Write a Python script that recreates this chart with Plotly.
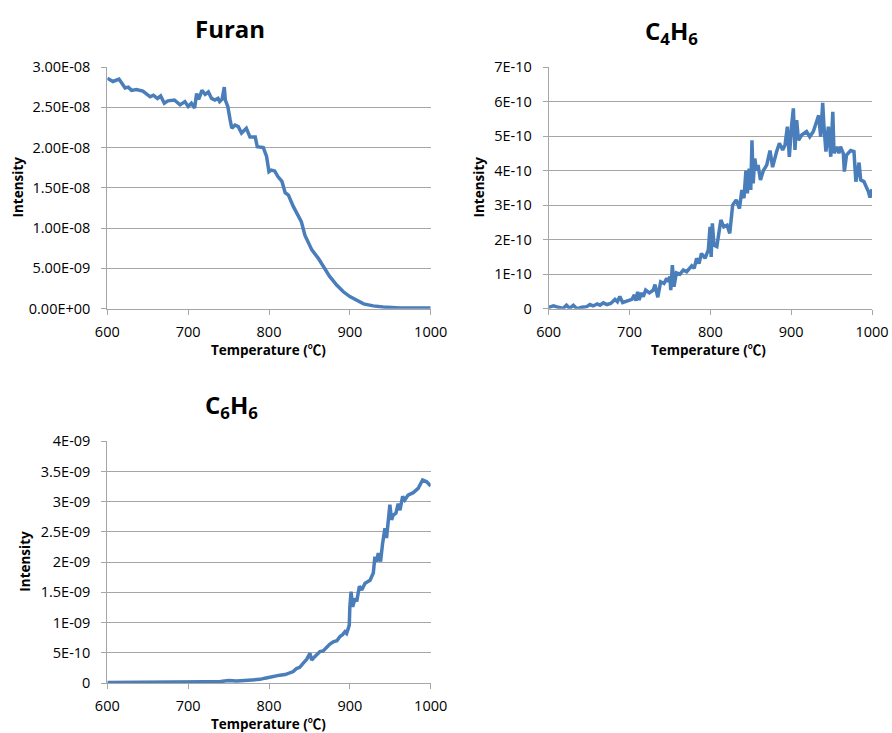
import plotly.graph_objects as go

# ---- data ---------------------------------------------------------------
# Furan intensity (units of 1E-08)
furan_t = [600, 607, 614.5, 622, 626, 630, 636, 644, 653, 657, 662, 666, 670.5, 675,
           683, 690, 696, 700, 704, 708, 710.5, 713, 715, 717, 721, 725, 729, 733,
           737, 739, 742, 744.7, 746, 749, 752, 754, 758, 762, 766, 772, 776.5, 783,
           785.5, 793, 797, 800, 803, 807, 811, 816, 820, 824, 830, 836, 840, 844.5,
           849, 853, 861, 867, 875, 884, 892, 900, 908, 917, 929, 941, 962, 1000]
furan_v = [2.86, 2.82, 2.85, 2.74, 2.75, 2.71, 2.72, 2.70, 2.63, 2.65, 2.61, 2.64, 2.55, 2.58,
           2.59, 2.53, 2.57, 2.51, 2.55, 2.49, 2.67, 2.60, 2.65, 2.71, 2.66, 2.69, 2.61, 2.59,
           2.61, 2.57, 2.60, 2.75, 2.59, 2.51, 2.34, 2.24, 2.28, 2.26, 2.18, 2.24, 2.13, 2.13,
           2.01, 2.00, 1.89, 1.70, 1.72, 1.71, 1.64, 1.58, 1.44, 1.41, 1.27, 1.15, 1.08, 0.91,
           0.81, 0.73, 0.625, 0.52, 0.40, 0.29, 0.21, 0.15, 0.11, 0.06, 0.035, 0.02, 0.008, 0.008]
FURAN_UNIT = 1e-8

# C4H6 intensity (units of 1E-10)
c4h6_t = [600, 606, 612, 618, 622, 626, 630.5, 635, 641, 647, 651, 655, 660, 663.5,
          667.6, 672, 676.7, 682, 685, 688, 691.5, 697, 703, 706, 708, 710, 712, 714,
          717, 720, 724.5, 729.5, 731.5, 735, 738.5, 742.7, 746, 748, 750, 751, 753,
          755, 758, 762.5, 766.6, 770.7, 777, 780, 783, 786, 789, 793.4, 797.5, 799.6,
          801, 802.5, 804.5, 808, 811, 813, 816.6, 820.7, 824, 827.6, 832, 836, 839,
          841.6, 844, 845.8, 848, 850, 851.5, 853, 855, 857, 859, 862, 865.6, 869.7,
          873.8, 877, 882, 885.4, 889.5, 892.4, 895.3, 897.7, 900.6, 902.7, 904.7,
          906.8, 909, 913, 919, 923, 927.4, 931.5, 934, 936.5, 939, 940.6, 943, 946,
          949, 951.5, 953, 956.3, 959, 961, 964.5, 965.8, 968.5, 973.6, 977.7, 980,
          984, 986, 990, 995.5, 997.5, 1000]
c4h6_v = [0.04, 0.08, 0.04, 0.01, 0.10, 0.01, 0.10, 0.00, 0.04, 0.06, 0.12, 0.08, 0.14, 0.10,
          0.17, 0.12, 0.15, 0.27, 0.20, 0.35, 0.18, 0.23, 0.27, 0.40, 0.23, 0.49, 0.25, 0.46,
          0.35, 0.54, 0.46, 0.54, 0.70, 0.33, 0.78, 0.73, 0.88, 0.78, 0.93, 0.54, 1.26,
          0.64, 1.04, 1.00, 1.12, 1.07, 1.24, 1.17, 1.46, 1.31, 1.60, 1.46, 1.70, 2.37,
          1.50, 2.47, 1.84, 1.80, 2.28, 2.57, 2.37, 2.42, 2.18, 3.00, 3.15, 2.90, 3.44,
          3.20, 4.00, 3.34, 4.06, 3.44, 4.88, 3.63, 4.35, 4.00, 4.16, 3.73, 4.00, 4.16,
          4.58, 4.10, 4.55, 4.79, 4.60, 4.74, 5.27, 4.40, 5.32, 5.80, 4.60,
          5.46, 4.88, 5.03, 5.13, 4.98, 5.13, 5.46, 5.60, 4.98, 5.96, 5.27, 4.55, 5.27,
          4.40, 5.70, 4.50, 4.69, 4.50, 4.69, 4.50, 3.97, 4.45, 4.58, 4.55, 3.68,
          4.23, 3.73, 3.68, 3.39, 3.22, 3.46]
C4H6_UNIT = 1e-10

# C6H6 intensity (units of 1E-09)
c6h6_t = [600, 650, 700, 720, 740, 750, 760, 770, 780, 788.9, 795, 801, 807, 813.5, 820, 826,
          830, 834, 838, 842.4, 846.5, 850.7, 852.8, 856.9, 863, 867, 871.4, 875, 879.5,
          884, 887.8, 891, 894, 896, 898, 899.3,
          900, 901.5, 903.5, 906.4, 908.5, 911.8, 914.7, 918.8, 925, 929, 931, 933,
          935.2, 938, 940.5, 943.4, 945.4, 947.5, 949.5, 951.6, 953.7, 957, 959.8, 962,
          965.3, 968, 972, 978.4, 984.5, 990, 995, 1000]
c6h6_v = [0.01, 0.01, 0.015, 0.02, 0.025, 0.04, 0.035, 0.04, 0.05, 0.06, 0.08, 0.10, 0.12, 0.13,
          0.14, 0.17, 0.19, 0.24, 0.26, 0.33, 0.39, 0.49, 0.38, 0.44, 0.52, 0.53, 0.60,
          0.64, 0.68, 0.70, 0.77, 0.80, 0.85, 0.82, 0.90, 0.96,
          1.26, 1.51, 1.26, 1.40, 1.35, 1.60, 1.54, 1.65, 1.70, 1.82, 2.09, 2.01,
          2.15, 2.01, 2.31, 2.56, 2.40, 2.67, 2.95, 2.70, 2.78, 2.81, 2.97, 2.86,
          3.09, 3.03, 3.11, 3.15, 3.22, 3.36, 3.33, 3.26]
C6H6_UNIT = 1e-9

x_ticks = [600, 700, 800, 900, 1000]
furan_ticks = [0, 5e-9, 1e-8, 1.5e-8, 2e-8, 2.5e-8, 3e-8]
furan_ticktext = ["0.00E+00", "5.00E-09", "1.00E-08", "1.50E-08", "2.00E-08", "2.50E-08", "3.00E-08"]
c4h6_ticks = [0, 1e-10, 2e-10, 3e-10, 4e-10, 5e-10, 6e-10, 7e-10]
c4h6_ticktext = ["0", "1E-10", "2E-10", "3E-10", "4E-10", "5E-10", "6E-10", "7E-10"]
c6h6_ticks = [0, 5e-10, 1e-9, 1.5e-9, 2e-9, 2.5e-9, 3e-9, 3.5e-9, 4e-9]
c6h6_ticktext = ["0", "5E-10", "1E-09", "1.5E-09", "2E-09", "2.5E-09", "3E-09", "3.5E-09", "4E-09"]

# ---- styling ------------------------------------------------------------
W, H = 892, 733
LINE = "#4a7ebb"
GRID = "#a6a6a6"
FONT = "Open Sans, Noto Sans CJK SC, sans-serif"

def px(x):
    return x / W

def py(y):
    return 1 - y / H

fig = go.Figure()
fig.add_trace(go.Scatter(x=furan_t, y=[v * FURAN_UNIT for v in furan_v], mode="lines",
                         line=dict(color=LINE, width=3.5), xaxis="x", yaxis="y"))
fig.add_trace(go.Scatter(x=c4h6_t, y=[v * C4H6_UNIT for v in c4h6_v], mode="lines",
                         line=dict(color=LINE, width=3.5), xaxis="x2", yaxis="y2"))
fig.add_trace(go.Scatter(x=c6h6_t, y=[v * C6H6_UNIT for v in c6h6_v], mode="lines",
                         line=dict(color=LINE, width=3.5), xaxis="x3", yaxis="y3"))

tick_font = dict(family=FONT, size=14.5, color="#000000")

def xaxis(dom, anchor):
    return dict(domain=dom, anchor=anchor, range=[600, 1000], tickvals=x_ticks,
                showgrid=False, zeroline=False, showline=True, linecolor=GRID, linewidth=1,
                ticks="outside", ticklen=5, tickcolor=GRID, tickfont=tick_font,
                ticklabelstandoff=5, automargin=False)

def yaxis(dom, anchor, top, vals, text):
    return dict(domain=dom, anchor=anchor, range=[0, top], tickvals=vals, ticktext=text,
                showgrid=True, gridcolor=GRID, gridwidth=1, zeroline=False,
                showline=True, linecolor=GRID, linewidth=1,
                ticks="outside", ticklen=5, tickcolor=GRID, tickfont=tick_font,
                ticklabelstandoff=8, automargin=False)

left_dom = [px(107.3), px(430.7)]
right_dom = [px(548.7), px(872)]
top_dom = [py(308.7), py(67)]
bot_dom = [py(683), py(441.3)]

fig.update_layout(
    template="none",
    width=W, height=H, margin=dict(l=0, r=0, t=0, b=0, pad=0),
    paper_bgcolor="white", plot_bgcolor="white", showlegend=False,
    xaxis=xaxis(left_dom, "y"),
    yaxis=yaxis(top_dom, "x", 3e-8, furan_ticks, furan_ticktext),
    xaxis2=xaxis(right_dom, "y2"),
    yaxis2=yaxis(top_dom, "x2", 7e-10, c4h6_ticks, c4h6_ticktext),
    xaxis3=xaxis(left_dom, "y3"),
    yaxis3=yaxis(bot_dom, "x3", 4e-9, c6h6_ticks, c6h6_ticktext),
)

title_font = dict(family=FONT, size=24, color="#000000")
label_font = dict(family=FONT, size=13.5, color="#000000")

annotations = [
    dict(text="<b>Furan</b>", x=px(230), y=py(29), font=title_font),
    dict(text="<b>C<sub>4</sub>H<sub>6</sub></b>", x=px(671), y=py(32), font=title_font),
    dict(text="<b>C<sub>6</sub>H<sub>6</sub></b>", x=px(231), y=py(406), font=title_font),
    dict(text="<b>Intensity</b>", x=px(17), y=py(187.5), textangle=-90, font=label_font),
    dict(text="<b>Intensity</b>", x=px(478), y=py(187.5), textangle=-90, font=label_font),
    dict(text="<b>Intensity</b>", x=px(25), y=py(561.7), textangle=-90, font=label_font),
    dict(text="<b>Temperature (℃)</b>", x=px(268.5), y=py(350), font=label_font),
    dict(text="<b>Temperature (℃)</b>", x=px(708.5), y=py(350), font=label_font),
    dict(text="<b>Temperature (℃)</b>", x=px(268.5), y=py(723.5), font=label_font),
]
for a in annotations:
    a.update(xref="paper", yref="paper", showarrow=False, xanchor="center", yanchor="middle")
fig.update_layout(annotations=annotations)

fig.write_html("out.html")
